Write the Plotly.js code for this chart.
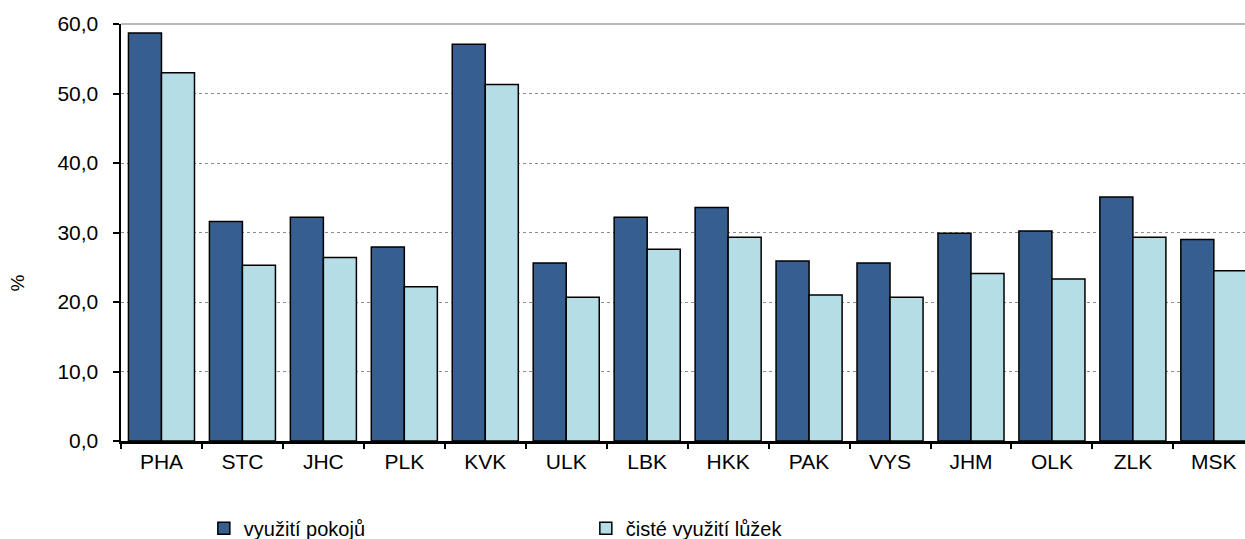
<!DOCTYPE html>
<html>
<head>
<meta charset="utf-8">
<script src="https://cdn.plot.ly/plotly-3.0.1.min.js"></script>
<style>html,body{margin:0;padding:0;background:#fff;}#chart{width:1245px;height:539px;}</style>
</head>
<body>
<div id="chart"></div>
<script>
const categories = ["PHA","STC","JHC","PLK","KVK","ULK","LBK","HKK","PAK","VYS","JHM","OLK","ZLK","MSK"];
const vyuzitiPokoju = [58.7,31.6,32.2,27.9,57.1,25.6,32.2,33.6,25.9,25.6,29.9,30.2,35.1,29.0];
const cisteVyuzitiLuzek = [53.0,25.3,26.4,22.2,51.3,20.7,27.6,29.3,21.0,20.7,24.1,23.3,29.3,24.5];
const seriesNames = ["využití pokojů","čisté využití lůžek"];
const yTicks = [0,10,20,30,40,50,60];

const FONT = 'Arial, "Liberation Sans", sans-serif';
const traces = [
  {type:'bar', x:categories, y:vyuzitiPokoju, name:seriesNames[0],
   marker:{color:'#365F8F', line:{color:'#000', width:1.5}}},
  {type:'bar', x:categories, y:cisteVyuzitiLuzek, name:seriesNames[1],
   marker:{color:'#B4DDE6', line:{color:'#000', width:1.5}}}
];
const layout = {
  width:1245, height:539,
  margin:{l:121, r:0, t:24, b:98, autoexpand:false},
  paper_bgcolor:'#fff', plot_bgcolor:'#fff',
  font:{family:FONT, size:21, color:'#000'},
  barmode:'group', bargap:0.184, bargroupgap:0,
  separators:',.',
  xaxis:{type:'category', range:[-0.5, 13.385], tickson:'boundaries',
    ticks:'outside', ticklen:5, tickwidth:2, tickcolor:'#000',
    showline:true, linecolor:'#000', linewidth:2.5, showgrid:false,
    tickfont:{size:21, family:FONT}, fixedrange:true},
  yaxis:{range:[0,60], tickvals:yTicks, tickformat:'.1f',
    ticks:'outside', ticklen:6, tickwidth:2, tickcolor:'#000',
    showline:true, linecolor:'#000', linewidth:2.5,
    showgrid:true, gridcolor:'#8c8c8c', gridwidth:1, griddash:'dot',
    zeroline:false, ticklabelstandoff:10,
    tickfont:{size:21, family:FONT}, fixedrange:true},
  showlegend:true,
  legend:{orientation:'h', x:0.0737, xanchor:'left', y:-0.209, yanchor:'middle',
    entrywidth:337, entrywidthmode:'pixels', font:{size:20, family:FONT},
    bgcolor:'rgba(0,0,0,0)', traceorder:'normal'},
  shapes:[{type:'line', xref:'paper', yref:'paper', x0:0, x1:1, y0:1, y1:1,
    line:{color:'#a0a0a0', width:1.5}}],
  annotations:[{text:'%', xref:'paper', yref:'paper', x:-0.092, y:0.379,
    xanchor:'center', yanchor:'middle', showarrow:false, textangle:-90,
    font:{size:19, family:FONT}}]
};
Plotly.newPlot('chart', traces, layout, {displayModeBar:false, staticPlot:true});
</script>
</body>
</html>
